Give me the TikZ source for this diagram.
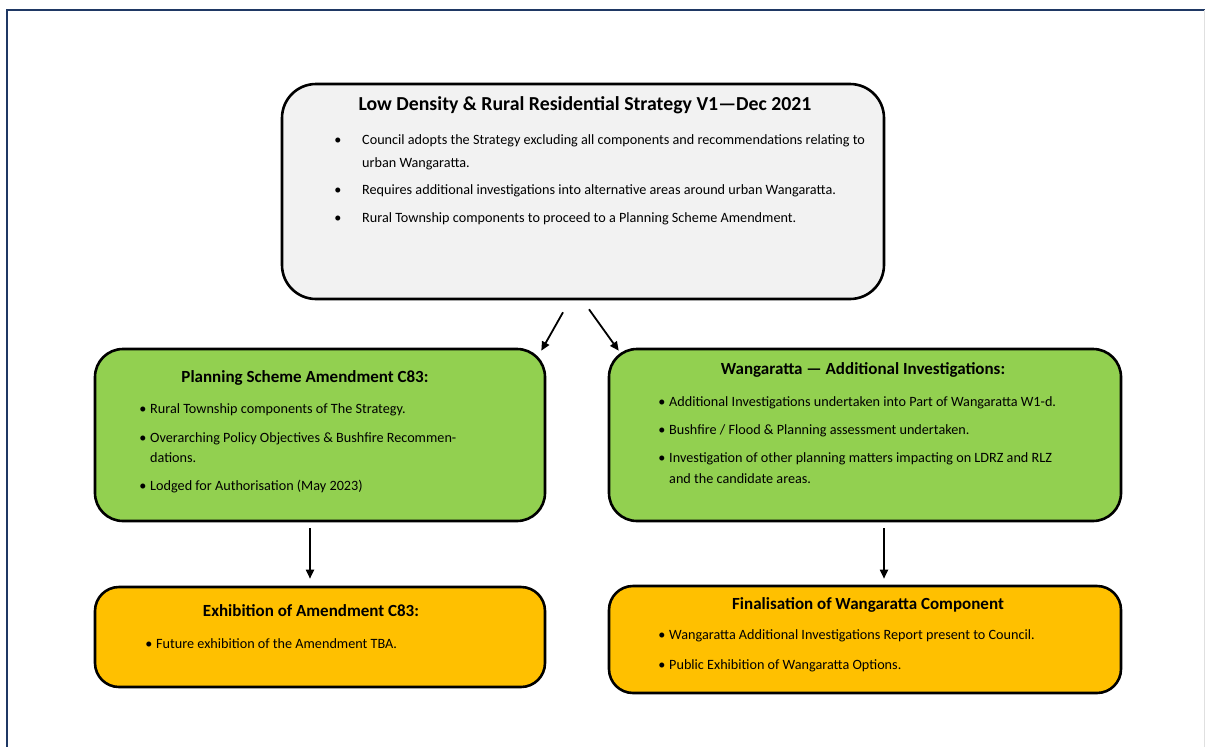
\documentclass[tikz,border=0pt]{standalone}
\usepackage{fontspec}
\setmainfont{Carlito}
\usetikzlibrary{calc,arrows.meta}
\definecolor{gfill}{HTML}{92D050}
\definecolor{ofill}{HTML}{FFC000}
\definecolor{tfill}{HTML}{F2F2F2}
\definecolor{frameblue}{HTML}{1F3864}
\begin{document}
\begin{tikzpicture}[x=1pt,y=-1pt,
  box/.style={draw=black, line width=2.6pt, rounded corners=28pt, inner sep=0pt},
  ttl/.style={font=\bfseries\fontsize{17}{20}\selectfont, anchor=base, inner sep=0pt},
  bigttl/.style={font=\bfseries\fontsize{19.8}{23}\selectfont, anchor=base, inner sep=0pt},
  txt/.style={font=\fontsize{14.2}{17}\selectfont, anchor=base west, inner sep=0pt},
  bul/.style={font=\fontsize{14.2}{17}\selectfont, anchor=base, inner sep=0pt},
  arr/.style={-{Triangle[length=9pt,width=8pt]}, line width=1.8pt}]
\useasboundingbox (0,0) rectangle (1205,747);
\fill[white] (0,0) rectangle (1205,747);
\draw[frameblue, line width=2.5pt] (7,747) -- (7,10) -- (1205,10);
\draw[black!12, line width=1pt] (1204.5,10) -- (1204.5,747);

% boxes
\node[box, fill=tfill, rounded corners=34pt, minimum width=602pt, minimum height=215pt] (top) at (583,191.5) {};
\node[box, fill=gfill, minimum width=450pt, minimum height=172pt] (pa) at (320,435) {};
\node[box, fill=gfill, minimum width=512pt, minimum height=172pt] (wi) at (865,435) {};
\node[box, fill=ofill, rounded corners=24pt, minimum width=450pt, minimum height=100pt] (ex) at (320,637) {};
\node[box, fill=ofill, rounded corners=24pt, minimum width=512pt, minimum height=107pt] (fw) at (865,639.5) {};

% top box text
\node[bigttl] (t0) at (585,110) {Low Density \& Rural Residential Strategy V1—Dec 2021};
\node[bul] (tb1) at (338,144) {•};
\node[txt] (t1a) at (362,144) {Council adopts the Strategy excluding all components and recommendations relating to};
\node[txt] (t1b) at (362,167) {urban Wangaratta.};
\node[bul] (tb2) at (338,194) {•};
\node[txt] (t2) at (362,194) {Requires additional investigations into alternative areas around urban Wangaratta.};
\node[bul] (tb3) at (338,222) {•};
\node[txt] (t3) at (362,222) {Rural Township components to proceed to a Planning Scheme Amendment.};

% planning scheme amendment
\node[ttl] (p0) at (305,382) {Planning Scheme Amendment C83:};
\node[bul] (pb1) at (143,413) {•};
\node[txt] (p1) at (150,413) {Rural Township components of The Strategy.};
\node[bul] (pb2) at (143,442) {•};
\node[txt] (p2a) at (150,442) {Overarching Policy Objectives \& Bushfire Recommen-};
\node[txt] (p2b) at (150,462) {dations.};
\node[bul] (pb3) at (143,490) {•};
\node[txt] (p3) at (150,490) {Lodged for Authorisation (May 2023)};

% wangaratta additional investigations
\node[ttl] (w0) at (863,374) {Wangaratta — Additional Investigations:};
\node[bul] (wb1) at (662,406) {•};
\node[txt] (w1) at (669,406) {Additional Investigations undertaken into Part of Wangaratta W1-d.};
\node[bul] (wb2) at (662,434) {•};
\node[txt] (w2) at (669,434) {Bushfire / Flood \& Planning assessment undertaken.};
\node[bul] (wb3) at (662,462) {•};
\node[txt] (w3a) at (669,462) {Investigation of other planning matters impacting on LDRZ and RLZ};
\node[txt] (w3b) at (669,483) {and the candidate areas.};

% exhibition
\node[ttl] (e0) at (311,616) {Exhibition of Amendment C83:};
\node[bul] (eb1) at (149,648) {•};
\node[txt] (e1) at (156,648) {Future exhibition of the Amendment TBA.};

% finalisation
\node[ttl] (f0) at (868,609) {Finalisation of Wangaratta Component};
\node[bul] (fb1) at (662,639) {•};
\node[txt] (f1) at (669,639) {Wangaratta Additional Investigations Report present to Council.};
\node[bul] (fb2) at (662,669) {•};
\node[txt] (f2) at (669,669) {Public Exhibition of Wangaratta Options.};

% connectors
\draw[arr] ($(top.south)+(-20,12)$) -- ($(pa.north east)+(-5,3)$);
\draw[arr] ($(top.south)+(6,9)$) -- ($(wi.north west)+(11,3)$);
\draw[arr] ($(pa.south)+(-10,6)$) -- ($(ex.north)+(-10,-7)$);
\draw[arr] ($(wi.south)+(19,6)$) -- ($(fw.north)+(19,-6)$);
\end{tikzpicture}
\end{document}
